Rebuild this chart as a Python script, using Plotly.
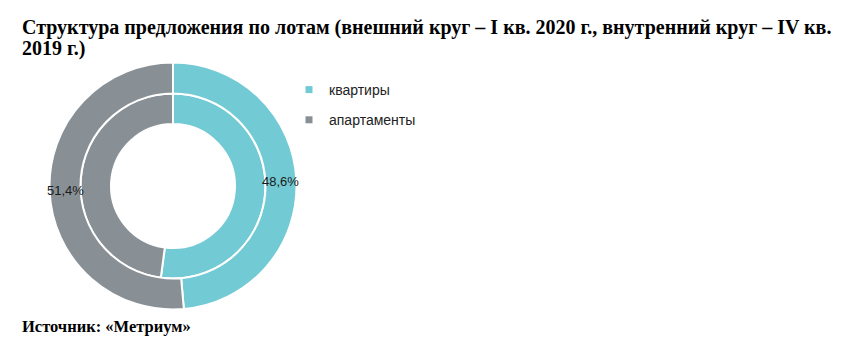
import math
import plotly.graph_objects as go

# ---- data ----
labels = ["квартиры", "апартаменты"]
outer_q1_2020 = [48.6, 51.4]   # внешний круг – I кв. 2020 г.
inner_q4_2019 = [52.1, 47.9]   # внутренний круг – IV кв. 2019 г.
colors = ["#72CAD4", "#889096"]
title_lines = ["Структура предложения по лотам (внешний круг – I кв. 2020 г., "
               "внутренний круг – IV кв.",
               "2019 г.)"]
source_text = "Источник: «Метриум»"

W, H = 850, 351
cx, cy = 173, 186
r_out, r_mid, r_hole = 123.5, 92.5, 62


def dom(r):
    return dict(x=[(cx - r) / W, (cx + r) / W],
                y=[(H - cy - r) / H, (H - cy + r) / H])


fig = go.Figure()

fig.add_trace(go.Pie(
    labels=labels, values=inner_q4_2019, sort=False, direction="clockwise",
    rotation=0, hole=r_hole / r_mid, domain=dom(r_mid),
    marker=dict(colors=colors, line=dict(color="white", width=2)),
    textinfo="none", showlegend=False, hoverinfo="label+value",
))

fig.add_trace(go.Pie(
    labels=labels, values=outer_q1_2020, sort=False, direction="clockwise",
    rotation=0, hole=r_mid / r_out, domain=dom(r_out),
    marker=dict(colors=colors, line=dict(color="white", width=2)),
    textinfo="none", showlegend=False, hoverinfo="label+value",
))

# data labels of the outer ring, placed at each slice's mid-angle
total = sum(outer_q1_2020)
acc = 0.0
r_lab = (r_mid + r_out) / 2
for v in outer_q1_2020:
    mid = (acc + v / 2) / total * 2 * math.pi
    acc += v
    px = cx + r_lab * math.sin(mid)
    py = cy - r_lab * math.cos(mid)
    fig.add_annotation(
        text=f"{v:.1f}%".replace(".", ","), xref="paper", yref="paper",
        x=px / W, y=1 - py / H, xanchor="center", yanchor="middle",
        showarrow=False,
        font=dict(family="Arial, Liberation Sans", size=13, color="#1a1a1a"),
    )

# legend entries
for i, (lab, col) in enumerate(zip(labels, colors)):
    fig.add_trace(go.Scatter(
        x=[None], y=[None], mode="markers", name=lab, legendgroup=f"g{i}",
        marker=dict(symbol="square", size=7, color=col),
    ))

for line, ymid in zip(title_lines, [27.5, 48.5]):
    fig.add_annotation(
        text=f"<b>{line}</b>", xref="paper", yref="paper",
        x=20 / W, y=1 - ymid / H, xanchor="left", yanchor="middle", align="left",
        showarrow=False,
        font=dict(family="Times New Roman, Liberation Serif", size=20, color="#000"),
    )
fig.add_annotation(
    text=f"<b>{source_text}</b>", xref="paper", yref="paper",
    x=20 / W, y=1 - 326 / H, xanchor="left", yanchor="middle", align="left",
    showarrow=False,
    font=dict(family="Times New Roman, Liberation Serif", size=16.5, color="#000"),
)

fig.update_layout(
    width=W, height=H, margin=dict(l=0, r=0, t=0, b=0),
    paper_bgcolor="white", plot_bgcolor="white",
    xaxis=dict(visible=False), yaxis=dict(visible=False),
    legend=dict(x=289 / W, y=1 - 74 / H, xanchor="left", yanchor="top",
                tracegroupgap=9,
                font=dict(family="Arial, Liberation Sans", size=14, color="#222"),
                bgcolor="rgba(0,0,0,0)"),
)

fig.write_html("out.html")
